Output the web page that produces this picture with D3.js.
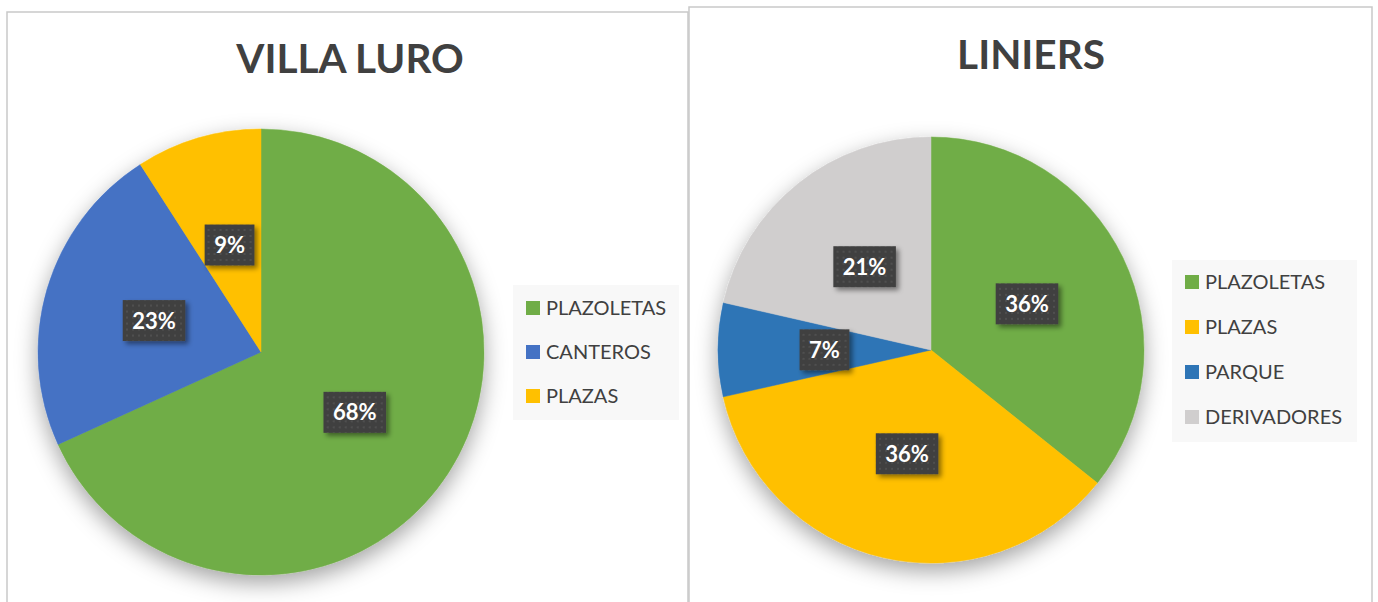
<!DOCTYPE html>
<html>
<head>
<meta charset="utf-8">
<script src="https://cdn.jsdelivr.net/npm/d3@7"></script>
<style>
  html, body { margin: 0; padding: 0; background: #ffffff; }
  svg { display: block; }
</style>
</head>
<body>
<svg id="chart" width="1378" height="602"></svg>
<script>
// ---- Data ----
const villaLuroTitle = "VILLA LURO";
const villaLuroCategories = ["PLAZOLETAS", "CANTEROS", "PLAZAS"];
const villaLuroValues = [68.2, 22.7, 9.1];
const villaLuroColors = ["#70AD47", "#4472C4", "#FFC000"];

const liniersTitle = "LINIERS";
const liniersCategories = ["PLAZOLETAS", "PLAZAS", "PARQUE", "DERIVADORES"];
const liniersValues = [35.7, 35.7, 7.1, 21.4];
const liniersColors = ["#70AD47", "#FFC000", "#2E75B6", "#D0CECE"];

// ---- Layout ----
const svg = d3.select("#chart");
const defs = svg.append("defs");

defs.append("filter").attr("id", "pieShadow")
  .attr("x", "-30%").attr("y", "-30%").attr("width", "160%").attr("height", "160%")
  .append("feDropShadow")
  .attr("dx", 0).attr("dy", 8).attr("stdDeviation", 11)
  .attr("flood-color", "#000").attr("flood-opacity", 0.36);

defs.append("filter").attr("id", "boxShadow")
  .attr("x", "-30%").attr("y", "-30%").attr("width", "170%").attr("height", "170%")
  .append("feDropShadow")
  .attr("dx", 3).attr("dy", 3).attr("stdDeviation", 2.5)
  .attr("flood-color", "#000").attr("flood-opacity", 0.45);

const pat = defs.append("pattern").attr("id", "dots")
  .attr("width", 6).attr("height", 6).attr("patternUnits", "userSpaceOnUse");
pat.append("rect").attr("width", 6).attr("height", 6).attr("fill", "#404040");
pat.append("circle").attr("cx", 3).attr("cy", 3).attr("r", 0.9).attr("fill", "#565656");

const panels = [
  { title: villaLuroTitle, cats: villaLuroCategories, vals: villaLuroValues, colors: villaLuroColors,
    box: [7, 12, 688, 640], cx: 261, cy: 352, r: 223, titleX: 350, titleY: 73,
    legend: { x: 513, y: 285, w: 166, h: 135, rowY0: 308, step: 44 } },
  { title: liniersTitle, cats: liniersCategories, vals: liniersValues, colors: liniersColors,
    box: [689, 7, 1372, 640], cx: 931, cy: 350, r: 213, titleX: 1031, titleY: 69,
    legend: { x: 1172, y: 260, w: 185, h: 182, rowY0: 282, step: 45 } }
];

panels.forEach(p => {
  const g = svg.append("g");
  // panel border
  g.append("rect")
    .attr("x", p.box[0]).attr("y", p.box[1])
    .attr("width", p.box[2] - p.box[0]).attr("height", p.box[3] - p.box[1])
    .attr("fill", "#ffffff").attr("stroke", "#c9c9c9").attr("stroke-width", 1.5);

  // title
  g.append("text")
    .attr("x", p.titleX).attr("y", p.titleY)
    .attr("text-anchor", "middle")
    .attr("font-family", "Lato, 'Open Sans', sans-serif")
    .attr("font-weight", 700).attr("font-size", 40.5)
    .attr("fill", "#404040")
    .text(p.title);

  const color = d3.scaleOrdinal().domain(p.cats).range(p.colors);
  const pie = d3.pie().sort(null).value(d => d.v);
  const data = p.cats.map((c, i) => ({ c, v: p.vals[i] }));
  const arcs = pie(data);
  const total = d3.sum(p.vals);
  const arc = d3.arc().innerRadius(0).outerRadius(p.r);
  const labelArc = d3.arc().innerRadius(p.r * 0.5).outerRadius(p.r * 0.5);

  const pg = g.append("g").attr("transform", `translate(${p.cx},${p.cy})`);
  pg.append("g").attr("filter", "url(#pieShadow)")
    .selectAll("path").data(arcs).join("path")
    .attr("d", arc)
    .attr("fill", d => color(d.data.c))
    .attr("stroke", d => color(d.data.c)).attr("stroke-width", 0.5);

  // data labels
  const lg = pg.selectAll("g.lbl").data(arcs).join("g").attr("class", "lbl")
    .attr("transform", d => `translate(${labelArc.centroid(d)})`);
  lg.each(function(d) {
    const sel = d3.select(this);
    const txt = Math.round(d.data.v / total * 100) + "%";
    const t = sel.append("text")
      .attr("text-anchor", "middle")
      .attr("y", 8)
      .attr("font-family", "Lato, 'Open Sans', sans-serif")
      .attr("font-weight", 700).attr("font-size", 22)
      .attr("fill", "#ffffff")
      .text(txt);
    const w = t.node().getComputedTextLength() + 19;
    sel.insert("rect", "text")
      .attr("x", -w / 2).attr("y", -20.5)
      .attr("width", w).attr("height", 41)
      .attr("fill", "url(#dots)")
      .attr("filter", "url(#boxShadow)");
  });

  // legend
  const L = p.legend;
  g.append("rect").attr("x", L.x).attr("y", L.y).attr("width", L.w).attr("height", L.h)
    .attr("fill", "#f8f8f8");
  const items = g.selectAll("g.leg").data(p.cats).join("g").attr("class", "leg")
    .attr("transform", (d, i) => `translate(${L.x + 13},${L.rowY0 + i * L.step})`);
  items.append("rect").attr("x", 0).attr("y", -7).attr("width", 14).attr("height", 14)
    .attr("fill", d => color(d));
  items.append("text").attr("x", 20).attr("y", 7)
    .attr("font-family", "Lato, 'Open Sans', sans-serif")
    .attr("font-size", 20).attr("fill", "#404040")
    .text(d => d);
});
</script>
</body>
</html>
